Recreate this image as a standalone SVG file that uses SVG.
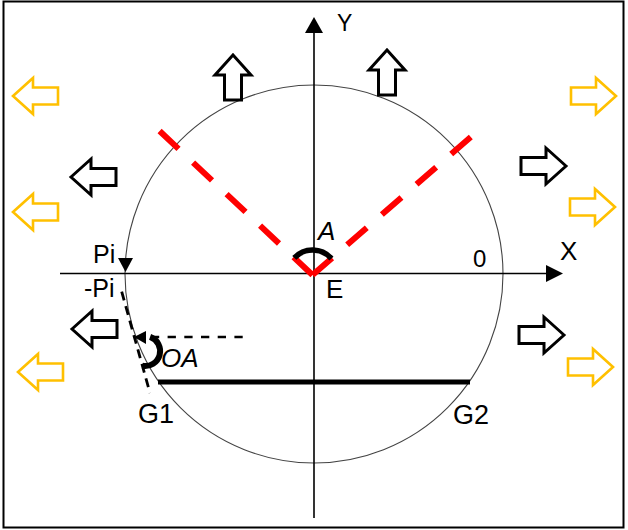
<svg xmlns="http://www.w3.org/2000/svg" width="628" height="530" viewBox="0 0 628 530">
<style>
.lbl{font-family:"Liberation Sans","DejaVu Sans",sans-serif;fill:#000}
.it{font-style:italic}
.ax{stroke:#000;stroke-width:1.6;fill:none}
.blk{fill:#fff;stroke:#000;stroke-width:3;stroke-linejoin:miter}
.yel{fill:#fff;stroke:#FFC000;stroke-width:2.6;stroke-linejoin:miter}
.red{stroke:#FF0000;stroke-width:6;stroke-dasharray:26 20;fill:none}
</style>
<defs>
<path id="arr" d="M0,0 L20,-18 L20,-8.5 L45,-8.5 L45,8.5 L20,8.5 L20,18 Z"/>
</defs>
<rect x="3.5" y="1.5" width="620" height="526" fill="#fff" stroke="#000" stroke-width="2"/>

<g id="circle">
<circle cx="314" cy="274" r="189" fill="none" stroke="#444" stroke-width="1.1"/>
</g>

<g id="connectors">
<line class="ax" x1="60" y1="273.5" x2="548" y2="273.5"/>
<polygon points="563,273.5 546,265 546,282" fill="#000"/>
<line class="ax" x1="314" y1="30" x2="314" y2="518"/>
<polygon points="314,17 305,33 323,33" fill="#000"/>
<line class="red" x1="312.5" y1="275" x2="158.5" y2="130"/>
<line class="red" x1="312.5" y1="275" x2="472" y2="136"/>
<path d="M294.3,257.9 A25 25 0 0 1 331.4,258.6" fill="none" stroke="#000" stroke-width="5.5"/>
<polygon points="118,258 133,258 125.5,272" fill="#000"/>
<line x1="121.7" y1="291.7" x2="150" y2="393" stroke="#000" stroke-width="2.8" stroke-dasharray="9 6"/>
<line x1="242.7" y1="337" x2="146" y2="337" stroke="#000" stroke-width="2.6" stroke-dasharray="8.3 8.4"/>
<polygon points="134,337 146,331 146,344" fill="#000"/>
<path d="M150.1,336.9 A15 15 0 0 1 142.4,365.8" fill="none" stroke="#000" stroke-width="6"/>
<line x1="158" y1="382" x2="470" y2="382" stroke="#000" stroke-width="5"/>
</g>

<g id="arrows-yellow">
<use href="#arr" class="yel" transform="translate(13,96)"/>
<use href="#arr" class="yel" transform="translate(13,212)"/>
<use href="#arr" class="yel" transform="translate(18,372)"/>
<use href="#arr" class="yel" transform="translate(616,96) scale(-1,1)"/>
<use href="#arr" class="yel" transform="translate(615,207) scale(-1,1)"/>
<use href="#arr" class="yel" transform="translate(613,367) scale(-1,1)"/>
</g>
<g id="arrows-black">
<use href="#arr" class="blk" transform="translate(71,177)"/>
<use href="#arr" class="blk" transform="translate(72,329)"/>
<use href="#arr" class="blk" transform="translate(566,166) scale(-1,1)"/>
<use href="#arr" class="blk" transform="translate(564,335) scale(-1,1)"/>
<use href="#arr" class="blk" transform="translate(233,55) rotate(90)"/>
<use href="#arr" class="blk" transform="translate(387,50) rotate(90)"/>
</g>

<g id="labels">
<text class="lbl" x="337" y="31" font-size="23">Y</text>
<text class="lbl" x="560" y="260" font-size="26">X</text>
<text class="lbl" x="473" y="267" font-size="24">0</text>
<text class="lbl it" x="318" y="240" font-size="26">A</text>
<text class="lbl" x="326" y="298" font-size="26">E</text>
<text class="lbl" x="93" y="263" font-size="25">Pi</text>
<text class="lbl" x="84" y="297" font-size="25">-Pi</text>
<text class="lbl it" x="161" y="367" font-size="26">OA</text>
<text class="lbl" x="138" y="423" font-size="27">G1</text>
<text class="lbl" x="453" y="424" font-size="27">G2</text>
</g>
</svg>
